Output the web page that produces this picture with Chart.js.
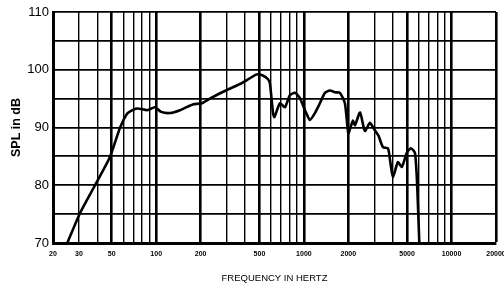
<!DOCTYPE html>
<html>
<head>
<meta charset="utf-8">
<script src="https://cdn.jsdelivr.net/npm/chart.js@4"></script>
<style>
  body { margin: 0; background: #fff; }
</style>
</head>
<body>
<canvas id="chart" width="504" height="291"></canvas>
<script>
// response curve
const freqs = [25, 30.5, 38.5, 48.6, 56.8, 64, 74, 87, 98, 108, 124, 145, 177, 204, 242, 301, 380, 480, 527, 570,
  589, 618, 632, 688, 744, 804, 870, 940, 1017, 1100, 1188, 1284, 1389, 1502, 1623, 1755, 1896,
  2000, 2080, 2150, 2220, 2400, 2590, 2800, 3030, 3200, 3430, 3710, 3850, 4010, 4330, 4610, 4990, 5310, 5650, 5830, 6050];
const spl = [70, 75.2, 80, 84.9, 89.9, 92.5, 93.3, 93.0, 93.5, 92.7, 92.5, 93.0, 94.0, 94.2, 95.3, 96.5, 97.7, 99.2, 99.0, 98.4,
  97.6, 92.5, 91.8, 94.2, 93.5, 95.6, 96.0, 95.1, 93.0, 91.3, 92.5, 94.2, 96.0, 96.4, 96.1, 96.0, 94.2,
  89, 90.2, 91.2, 90.4, 92.6, 89.4, 90.8, 89.5, 88.6, 86.6, 86.4, 84, 81.4, 84, 83.2, 85.7, 86.4, 85.6, 80.9, 70];

const gridFreqs = [20, 30, 40, 50, 60, 70, 80, 90, 100, 200, 300, 400, 500, 600, 700, 800, 900, 1000,
  2000, 3000, 4000, 5000, 6000, 7000, 8000, 9000, 10000, 20000];
const labelFreqs = [20, 30, 50, 100, 200, 500, 1000, 2000, 5000, 10000, 20000];
const heavyFreqs = [50, 100, 200, 500, 1000, 2000, 5000, 10000, 20000];

new Chart(document.getElementById("chart"), {
  type: "line",
  data: {
    datasets: [{
      data: freqs.map((f, i) => ({ x: f, y: spl[i] })),
      borderColor: "#000",
      borderWidth: 2.6,
      pointRadius: 0,
      tension: 0.2,
      clip: 0
    }]
  },
  options: {
    responsive: false,
    animation: false,
    layout: { padding: { top: 12, right: 8, left: 0, bottom: 0 } },
    plugins: { legend: { display: false }, tooltip: { enabled: false } },
    scales: {
      x: {
        type: "logarithmic",
        min: 20,
        max: 20000,
        afterBuildTicks: s => { s.ticks = gridFreqs.map(v => ({ value: v })); },
        afterFit: s => { s.height = 48; s.paddingLeft = 0; s.paddingRight = 0; },
        grid: {
          color: "#000",
          lineWidth: c => heavyFreqs.includes(c.tick && c.tick.value) ? 2.6 : 1.4,
          drawTicks: false
        },
        border: { color: "#000", width: 3 },
        ticks: {
          autoSkip: false,
          maxRotation: 0,
          padding: 7,
          color: "#000",
          font: { family: "Liberation Sans", size: 7, weight: "bold" },
          callback: v => labelFreqs.includes(v) ? String(v) : ""
        },
        title: {
          display: true,
          text: "FREQUENCY IN HERTZ",
          color: "#000",
          font: { family: "Liberation Sans", size: 9.5 },
          padding: { top: 0, bottom: 7 }
        }
      },
      y: {
        min: 70,
        max: 110,
        afterFit: s => { s.width = 53; s.paddingTop = 0; s.paddingBottom = 0; },
        grid: { color: "#000", lineWidth: 1.8, drawTicks: false },
        border: { color: "#000", width: 3 },
        ticks: {
          stepSize: 5,
          padding: 4,
          color: "#000",
          font: { family: "Liberation Sans", size: 13 },
          callback: v => v % 10 === 0 ? String(v) : ""
        },
        title: {
          display: true,
          text: "SPL in dB",
          color: "#000",
          font: { family: "Liberation Sans", size: 12.5, weight: "bold" },
          padding: { top: 9.5, bottom: 0 }
        }
      }
    }
  }
});
</script>
</body>
</html>
